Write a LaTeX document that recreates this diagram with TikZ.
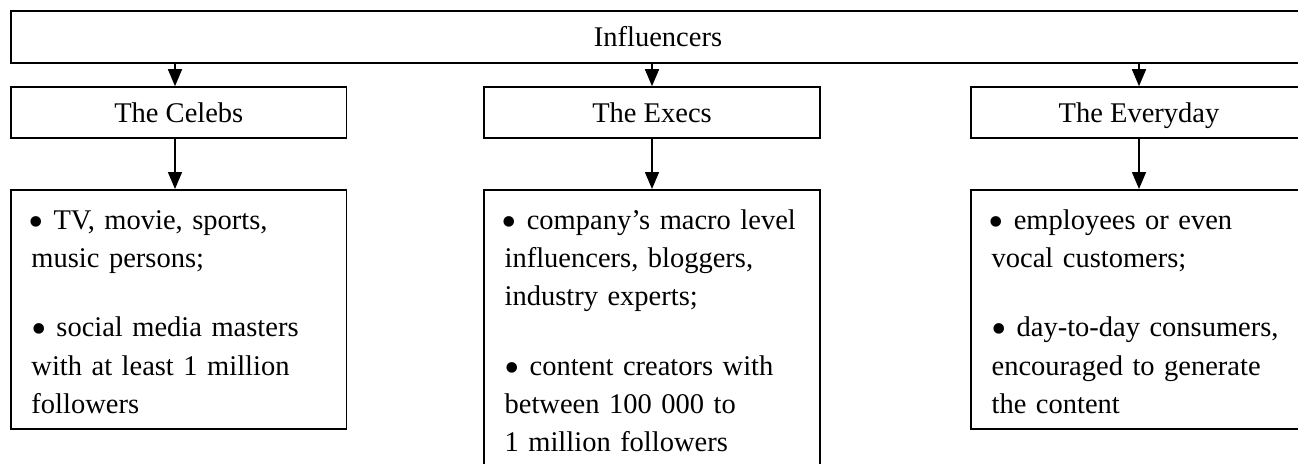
\documentclass[tikz,border=0pt]{standalone}
\usepackage{fontspec}
\setmainfont{Liberation Serif}
\usetikzlibrary{arrows.meta}
% a larger list bullet, sitting at mid x-height, not touching the line spacing
\newcommand\listdot{\kern-0.1em\smash{\raisebox{-0.25em}{\scalebox{1.55}{•}}}}
\begin{document}
\begin{tikzpicture}[x=1pt,y=1pt,
  box/.style={draw, line width=1.6pt, inner sep=0pt, font=\fontsize{28.5}{34}\selectfont},
  head/.style={box, minimum width=335.5pt, minimum height=51pt, text height=19pt, text depth=0pt},
  list/.style={box, minimum width=335.5pt, anchor=north},
  items/.style={inner sep=0pt, anchor=base west, text width=314pt, align=left,
    font=\fontsize{28.5}{38.3}\selectfont},
  link/.style={line width=1.6pt, -{Triangle[length=17pt,width=14pt]}}]

\useasboundingbox (0,0) rectangle (1298,-463);
\clip (0,0) rectangle (1298,-463);

% root and the three groups
\node[box, minimum width=1294pt, minimum height=52pt, text height=19pt, text depth=0pt]
  (top) at (658,-37) {Influencers};
\node[head] (celebs)   at (178.8,-112.5) {The Celebs};
\node[head] (execs)    at (652,-112.5)   {The Execs};
\node[head] (everyday) at (1139,-112.5)  {The Everyday};

% description boxes
\node[list, minimum height=239pt] (celebsL)   at (178.8,-189) {};
\node[list, minimum height=290pt] (execsL)    at (652,-189)   {};
\node[list, minimum height=239pt] (everydayL) at (1139,-189)  {};

\node[items] (celebsT) at ([xshift=21pt,yshift=-40pt]celebsL.north west)
  {\listdot{} TV, movie, sports,\\ music persons;\\[34pt] \listdot{} social media masters\\ with at least 1 million\\ followers};
\node[items] (execsT) at ([xshift=21pt,yshift=-40pt]execsL.north west)
  {\listdot{} company’s macro level\\ influencers, bloggers,\\ industry experts;\\[34pt] \listdot{} content creators with\\ between 100 000 to\\ 1 million followers};
\node[items] (everydayT) at ([xshift=21pt,yshift=-40pt]everydayL.north west)
  {\listdot{} employees or even\\ vocal customers;\\[34pt] \listdot{} day-to-day consumers,\\ encouraged to generate\\ the content};

% connectors (the Celebs column runs a little left of its box centre)
\draw[link] ([xshift=-3.8pt]top.south -| celebs.north) -- ([xshift=-3.8pt]celebs.north);
\draw[link] (top.south -| execs.north) -- (execs.north);
\draw[link] (top.south -| everyday.north) -- (everyday.north);
\draw[link] ([xshift=-3.8pt]celebs.south) -- ([xshift=-3.8pt]celebsL.north);
\draw[link] (execs.south) -- (execsL.north);
\draw[link] (everyday.south) -- (everydayL.north);
\end{tikzpicture}
\end{document}
